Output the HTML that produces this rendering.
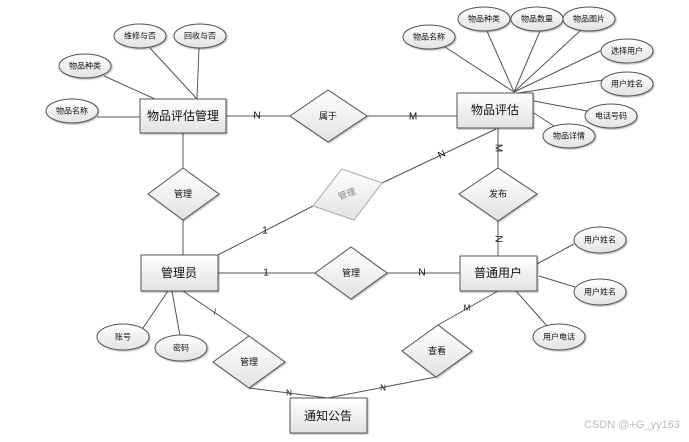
<!DOCTYPE html>
<html><head><meta charset="utf-8"><style>
html,body{margin:0;padding:0;background:#fff;}
svg{display:block;}
text{font-family:"Liberation Sans","Noto Sans CJK SC",sans-serif;fill:#111;text-anchor:middle;dominant-baseline:central;}
.s{font-size:8px;}
.b{font-size:12px;}
.d{font-size:9px;}
.l{font-size:10px;}
</style></head><body>
<svg width="689" height="442" viewBox="0 0 689 442" xmlns="http://www.w3.org/2000/svg">
<defs>
<linearGradient id="g" x1="0" y1="0" x2="0" y2="1"><stop offset="0" stop-color="#ffffff"/><stop offset="1" stop-color="#e2e2e2"/></linearGradient>
<filter id="sh" x="-10%" y="-10%" width="130%" height="140%"><feDropShadow dx="1" dy="1" stdDeviation="0.8" flood-color="#000" flood-opacity="0.3"/></filter>
</defs>
<g stroke="#555" stroke-width="1" fill="none">
<!-- left entity attrs -->
<line x1="150" y1="48" x2="197" y2="99"/>
<line x1="199" y1="48" x2="197" y2="99"/>
<line x1="104" y1="76" x2="155" y2="99"/>
<line x1="97" y1="117" x2="140" y2="117"/>
<line x1="226" y1="116" x2="290" y2="116"/>
<line x1="367" y1="116" x2="457" y2="116"/>
<line x1="183" y1="133" x2="183" y2="255"/>
<!-- right entity attrs -->
<line x1="445" y1="47" x2="514" y2="92"/>
<line x1="487" y1="31" x2="514" y2="92"/>
<line x1="540" y1="31" x2="514" y2="92"/>
<line x1="581" y1="30" x2="514" y2="92"/>
<line x1="602" y1="50" x2="514" y2="92"/>
<line x1="603" y1="80" x2="518" y2="93"/>
<line x1="534" y1="101" x2="592" y2="112"/>
<line x1="534" y1="113" x2="557" y2="128"/>
<line x1="498" y1="128" x2="498" y2="256"/>
<line x1="382" y1="183" x2="496" y2="129"/>
<line x1="218" y1="255" x2="313" y2="206"/>
<!-- middle -->
<line x1="218" y1="273" x2="460" y2="273"/>
<line x1="537" y1="264" x2="574" y2="244"/>
<line x1="539" y1="276" x2="575" y2="287"/>
<line x1="516" y1="291" x2="547" y2="326"/>
<line x1="168" y1="291" x2="143" y2="328"/>
<line x1="172" y1="291" x2="180" y2="336"/>
<line x1="183" y1="291" x2="249" y2="336"/>
<line x1="249" y1="388" x2="328" y2="398"/>
<line x1="328" y1="398" x2="436" y2="377"/>
<line x1="438" y1="325" x2="498" y2="291"/>
</g>
<g fill="url(#g)" stroke="#555" filter="url(#sh)">
<rect x="140" y="99" width="86" height="34"/>
<rect x="457" y="93" width="76" height="35"/>
<rect x="141" y="255" width="77" height="36"/>
<rect x="460" y="256" width="77" height="35"/>
<rect x="290" y="398" width="77" height="35"/>
<ellipse cx="140" cy="36" rx="26" ry="12"/>
<ellipse cx="200" cy="36" rx="26" ry="12"/>
<ellipse cx="85" cy="66" rx="26" ry="12"/>
<ellipse cx="72" cy="111" rx="26" ry="12"/>
<ellipse cx="429" cy="37" rx="26" ry="12"/>
<ellipse cx="484" cy="19" rx="26" ry="12"/>
<ellipse cx="537" cy="19" rx="26" ry="12"/>
<ellipse cx="589" cy="19" rx="26" ry="12"/>
<ellipse cx="627" cy="51" rx="26" ry="12"/>
<ellipse cx="627" cy="84" rx="26" ry="12"/>
<ellipse cx="611" cy="116" rx="26" ry="12"/>
<ellipse cx="569" cy="136" rx="26" ry="12"/>
<ellipse cx="600" cy="240" rx="26" ry="13"/>
<ellipse cx="600" cy="292" rx="26" ry="13"/>
<ellipse cx="559" cy="337" rx="26" ry="13"/>
<ellipse cx="123" cy="337" rx="26" ry="13"/>
<ellipse cx="181" cy="348" rx="26" ry="13"/>
<polygon points="328,90 367,116 328,142 290,116"/>
<polygon points="183,168 219,194 183,220 148,194"/>
<polygon points="498,168 537,194 498,221 459,194"/>
<polygon points="351,247 387,273 351,299 315,273"/>
<polygon points="249,336 285,362 249,388 213,362"/>
<polygon points="438,325 472,351 436,377 402,351"/>
</g>
<polygon points="342,169 382,183 354,220 313,206" fill="url(#g)" stroke="#aaa"/>
<text x="347" y="194" class="d" style="fill:#888" transform="rotate(-20 347 194)">管理</text>
<text x="183" y="116" class="b">物品评估管理</text>
<text x="495" y="110" class="b">物品评估</text>
<text x="179" y="273" class="b">管理员</text>
<text x="498" y="273" class="b">普通用户</text>
<text x="328" y="416" class="b">通知公告</text>
<text x="140" y="36" class="s">维修与否</text>
<text x="200" y="36" class="s">回收与否</text>
<text x="85" y="66" class="s">物品种类</text>
<text x="72" y="111" class="s">物品名称</text>
<text x="429" y="37" class="s">物品名称</text>
<text x="484" y="19" class="s">物品种类</text>
<text x="537" y="19" class="s">物品数量</text>
<text x="589" y="19" class="s">物品图片</text>
<text x="627" y="51" class="s">选择用户</text>
<text x="627" y="84" class="s">用户姓名</text>
<text x="611" y="116" class="s">电话号码</text>
<text x="569" y="136" class="s">物品详情</text>
<text x="600" y="240" class="s">用户姓名</text>
<text x="600" y="292" class="s">用户姓名</text>
<text x="559" y="337" class="s">用户电话</text>
<text x="123" y="337" class="s">账号</text>
<text x="181" y="348" class="s">密码</text>
<text x="328" y="116" class="d">属于</text>
<text x="183" y="194" class="d">管理</text>
<text x="498" y="194" class="d">发布</text>
<text x="351" y="273" class="d">管理</text>
<text x="249" y="362" class="d">管理</text>
<text x="437" y="351" class="d">查看</text>
<g class="l">
<text x="257" y="116" class="l">N</text>
<text x="413" y="117" class="l">M</text>
<text x="498" y="148" class="l" transform="rotate(90 498 148)">M</text>
<text x="442" y="155" class="l" transform="rotate(-25 442 155)">N</text>
<text x="265" y="231" class="l">1</text>
<text x="266" y="273" class="l">1</text>
<text x="422" y="273" class="l">N</text>
<text x="498" y="239" class="l" transform="rotate(90 498 239)">N</text>
<text x="215" y="312" class="l" style="font-size:8px">/</text>
<text x="289" y="393" class="l" style="font-size:8px">N</text>
<text x="383" y="388" class="l" style="font-size:8px">N</text>
<text x="467" y="308" class="l" style="font-size:8px">M</text>
</g>
<text x="632" y="425" style="font-size:11px;fill:#bbb">CSDN @+G_yy163</text>
</svg>
</body></html>
